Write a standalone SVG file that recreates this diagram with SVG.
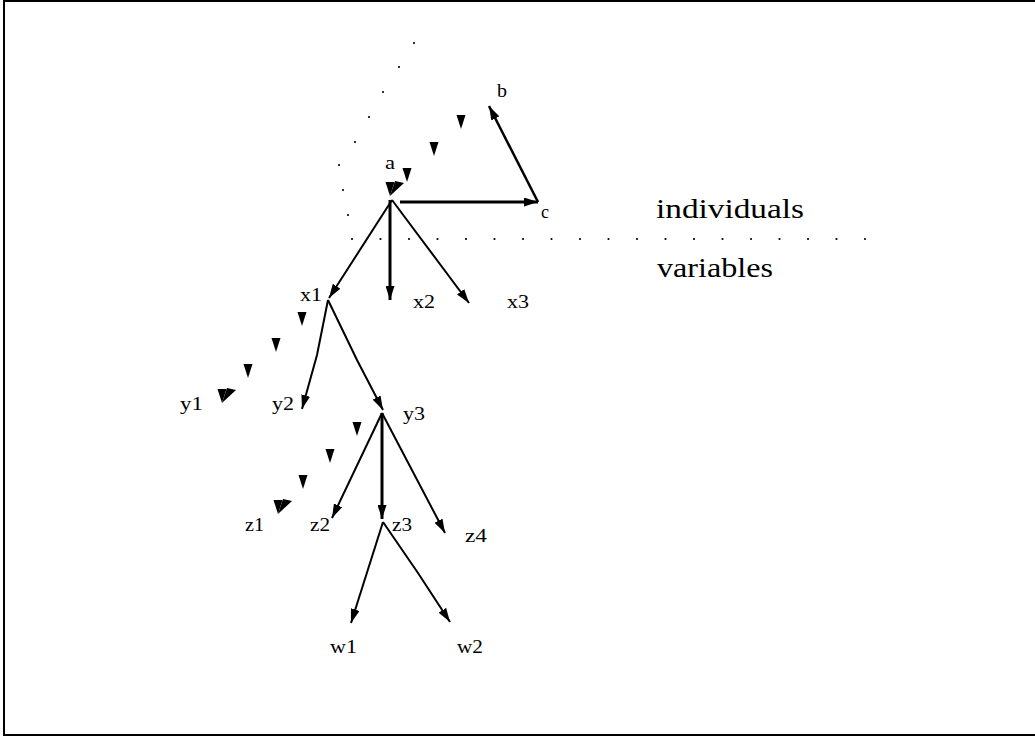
<svg xmlns="http://www.w3.org/2000/svg" width="1035" height="737" viewBox="0 0 1035 737">
<style>
.e{fill:none;stroke:#000;stroke-width:2;stroke-linecap:butt;marker-end:url(#ah)}
.t{stroke-width:3}
.l{font-family:"Liberation Serif",serif;font-size:19.5px;fill:#000}
.big{font-family:"Liberation Serif",serif;font-size:28px;fill:#000}
</style>
<defs>
<marker id="ah" viewBox="0 0 14 9" refX="14" refY="4.5" markerWidth="14" markerHeight="9" orient="auto" markerUnits="userSpaceOnUse"><path d="M0,0 L14,4.5 L0,9 Z"/></marker>
<path id="dh" d="M-4.5,-7 L4.5,-7 L0,7 Z"/>
<path id="dt" d="M0,0 L5,-15 L14,-13 Z"/>
<circle id="pt" r="1.1"/>
</defs>
<rect x="4" y="1" width="1040" height="734" fill="#fff" stroke="#000" stroke-width="2"/>

<g id="separator">
<use href="#pt" x="414" y="43"/><use href="#pt" x="399" y="67"/><use href="#pt" x="383" y="92"/><use href="#pt" x="369" y="117"/><use href="#pt" x="355" y="142"/><use href="#pt" x="339" y="165"/><use href="#pt" x="343" y="190"/><use href="#pt" x="348" y="215"/>
<use href="#pt" x="352" y="239"/><use href="#pt" x="380.5" y="239"/><use href="#pt" x="409" y="239"/><use href="#pt" x="437.5" y="239"/><use href="#pt" x="466" y="239"/><use href="#pt" x="494.5" y="239"/><use href="#pt" x="523" y="239"/><use href="#pt" x="551.5" y="239"/><use href="#pt" x="580" y="239"/><use href="#pt" x="608.5" y="239"/><use href="#pt" x="637" y="239"/><use href="#pt" x="665.5" y="239"/><use href="#pt" x="694" y="239"/><use href="#pt" x="722.5" y="239"/><use href="#pt" x="751" y="239"/><use href="#pt" x="779.5" y="239"/><use href="#pt" x="808" y="239"/><use href="#pt" x="836.5" y="239"/><use href="#pt" x="865" y="239"/>
<text class="big" x="656" y="218" textLength="148" lengthAdjust="spacingAndGlyphs">individuals</text>
<text class="big" x="657" y="277" textLength="116" lengthAdjust="spacingAndGlyphs">variables</text>
</g>

<g id="connectors">
<line class="e t" x1="400" y1="202" x2="538" y2="202"/>
<line class="e" x1="538" y1="202" x2="489" y2="106" style="stroke-width:2.5"/>
<line class="e" x1="392" y1="200" x2="329" y2="298"/>
<line class="e t" x1="390" y1="200" x2="390" y2="300"/>
<line class="e" x1="392" y1="200" x2="469" y2="303"/>
<polyline class="e" points="328,300 317,355 302,409"/>
<polyline class="e" points="328,300 357,360 383,410"/>
<line class="e" x1="382" y1="413" x2="332" y2="518"/>
<line class="e t" x1="382" y1="413" x2="382" y2="519"/>
<line class="e" x1="382" y1="413" x2="445" y2="533"/>
<line class="e" x1="383" y1="522" x2="351" y2="623"/>
<polyline class="e" points="383,522 418,573 450,622"/>
<g id="dashed-b-a">
<use href="#dh" x="461" y="122"/><use href="#dh" x="434" y="149"/><use href="#dh" x="407" y="175"/><use href="#dh" x="390" y="189"/><use href="#dt" x="390" y="196"/>
</g>
<g id="dashed-x1-y1">
<use href="#dh" x="302" y="319"/><use href="#dh" x="276" y="345"/><use href="#dh" x="248" y="371"/><use href="#dh" x="222" y="396"/><use href="#dt" x="222" y="403"/>
</g>
<g id="dashed-y3-z1">
<use href="#dh" x="357" y="429"/><use href="#dh" x="330" y="456"/><use href="#dh" x="303" y="482"/><use href="#dh" x="278" y="507"/><use href="#dt" x="278" y="514"/>
</g>
</g>

<g id="a"><text class="l" x="385" y="169" textLength="10" lengthAdjust="spacingAndGlyphs">a</text></g>
<g id="b"><text class="l" x="497" y="97" textLength="10" lengthAdjust="spacingAndGlyphs">b</text></g>
<g id="c"><text class="l" x="541" y="218" textLength="8" lengthAdjust="spacingAndGlyphs">c</text></g>
<g id="x1"><text class="l" x="300" y="301" textLength="22" lengthAdjust="spacingAndGlyphs">x1</text></g>
<g id="x2"><text class="l" x="413" y="308" textLength="22" lengthAdjust="spacingAndGlyphs">x2</text></g>
<g id="x3"><text class="l" x="507" y="308" textLength="22" lengthAdjust="spacingAndGlyphs">x3</text></g>
<g id="y1"><text class="l" x="180" y="410" textLength="23" lengthAdjust="spacingAndGlyphs">y1</text></g>
<g id="y2"><text class="l" x="272" y="410" textLength="22" lengthAdjust="spacingAndGlyphs">y2</text></g>
<g id="y3"><text class="l" x="403" y="420" textLength="22" lengthAdjust="spacingAndGlyphs">y3</text></g>
<g id="z1"><text class="l" x="245" y="531" textLength="19" lengthAdjust="spacingAndGlyphs">z1</text></g>
<g id="z2"><text class="l" x="310" y="531" textLength="20" lengthAdjust="spacingAndGlyphs">z2</text></g>
<g id="z3"><text class="l" x="392" y="531" textLength="20" lengthAdjust="spacingAndGlyphs">z3</text></g>
<g id="z4"><text class="l" x="465" y="542" textLength="22" lengthAdjust="spacingAndGlyphs">z4</text></g>
<g id="w1"><text class="l" x="330" y="653" textLength="27" lengthAdjust="spacingAndGlyphs">w1</text></g>
<g id="w2"><text class="l" x="457" y="653" textLength="26" lengthAdjust="spacingAndGlyphs">w2</text></g>
</svg>
